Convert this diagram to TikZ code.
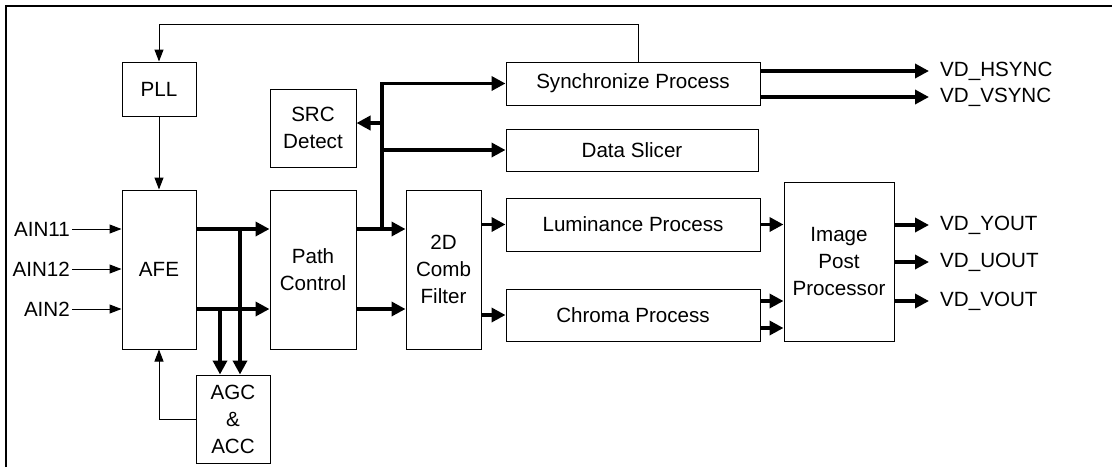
\documentclass[tikz,border=0pt]{standalone}
\usepackage{fontspec}
\setmainfont{Liberation Sans}
\usetikzlibrary{arrows.meta,positioning}

\begin{document}
\begin{tikzpicture}[x=1pt,y=-1pt,
	blk/.style={draw,line width=1pt,rectangle,inner sep=0pt,align=center,font=\fontsize{20.6}{27}\selectfont},
	inlbl/.style={anchor=east,inner sep=2pt,font=\fontsize{20.6}{24}\selectfont},
	outlbl/.style={anchor=west,inner xsep=11pt,inner ysep=0pt,font=\fontsize{20.6}{24}\selectfont},
	sigline/.style={line width=1pt,-{Triangle[length=12pt,width=9pt]}},
	busline/.style={line width=3.5pt,-{Triangle[length=14pt,width=14pt]}}]
	\useasboundingbox (0,0) rectangle (1112,467);
	\draw[line width=1.8pt] (6,467) -- (6,6) -- (1112,6);
	% blocks
	\node[blk,minimum width=74pt,minimum height=54pt] (pll) at (159,89) {PLL};
	\node[blk,minimum width=86pt,minimum height=78pt] (src) at (313,128) {SRC\\Detect};
	\node[blk,minimum width=254pt,minimum height=43pt] (sync) at (633,83.5) {Synchronize Process};
	\node[blk,minimum width=252pt,minimum height=42pt] (slicer) at (632,150) {Data Slicer};
	\node[blk,minimum width=254pt,minimum height=53pt] (lum) at (633,224.5) {Luminance Process};
	\node[blk,minimum width=254pt,minimum height=52pt] (chroma) at (633,315) {Chroma Process};
	\node[blk,minimum width=110pt,minimum height=159pt] (ipp) at (839,261.5) {Image\\Post\\Processor};
	\node[blk,minimum width=74pt,minimum height=159pt] (afe) at (159,269.5) {AFE};
	\node[blk,minimum width=86pt,minimum height=159pt] (path) at (313,269.5) {Path\\Control};
	\node[blk,minimum width=75pt,minimum height=159pt] (comb) at (443.5,269.5) {2D\\Comb\\Filter};
	\node[blk,minimum width=74pt,minimum height=88pt] (agc) at (233,419) {AGC\\\&\\ACC};
	% labels
	\node[inlbl] (ain11) at (72,229) {AIN11};
	\node[inlbl] (ain12) at (72,269) {AIN12};
	\node[inlbl] (ain2) at (72,309) {AIN2};
	\node[outlbl] (hsync) at (929,71) {VD\_HSYNC};
	\node[outlbl] (vsync) at (929,97) {VD\_VSYNC};
	\node[outlbl] (yout) at (929,225) {VD\_YOUT};
	\node[outlbl] (uout) at (929,262) {VD\_UOUT};
	\node[outlbl] (vout) at (929,301) {VD\_VOUT};
	% taps
	\coordinate (fbtop) at (638,24);
	\coordinate (tapA) at (240,229);
	\coordinate (tapB) at (220,309);
	\coordinate (bus) at (382,229);
	\coordinate (srctap) at (382,123);
	\coordinate (cin1) at (760,301);
	\coordinate (cin2) at (760,328);
	% thin signals
	\draw [sigline] (ain11.east) to (afe.west |- ain11);
	\draw [sigline] (ain12.east) to (afe.west |- ain12);
	\draw [sigline] (ain2.east) to (afe.west |- ain2);
	\draw [sigline] (sync.north -| fbtop) -- (fbtop) -| (pll.north);
	\draw [sigline] (pll) to (afe);
	\draw [sigline] (agc.west) -| (afe.south);
	% thick signals
	\draw [busline] (afe.east |- ain11) to (path.west |- ain11);
	\draw [busline] (afe.east |- ain2) to (path.west |- ain2);
	\draw [busline] (tapA) to (tapA |- agc.north);
	\draw [busline] (tapB) to (tapB |- agc.north);
	\draw [busline] (path.east |- ain11) to (comb.west |- ain11);
	\draw [busline] (path.east |- ain2) to (comb.west |- ain2);
	\draw [busline] (bus) |- (sync.west);
	\draw [busline] (srctap) to (src.east |- srctap);
	\draw [busline] (bus |- slicer.west) to (slicer.west);
	\draw [busline] (comb.east |- lum.west) to (lum.west);
	\draw [busline] (comb.east |- chroma.west) to (chroma.west);
	\draw [busline] (lum.east) to (lum.east -| ipp.west);
	\draw [busline] (cin1) to (cin1 -| ipp.west);
	\draw [busline] (cin2) to (cin2 -| ipp.west);
	\draw [busline] (sync.east |- hsync) to (hsync.west);
	\draw [busline] (sync.east |- vsync) to (vsync.west);
	\draw [busline] (ipp.east |- yout) to (yout.west);
	\draw [busline] (ipp.east |- uout) to (uout.west);
	\draw [busline] (ipp.east |- vout) to (vout.west);
\end{tikzpicture}
\end{document}
